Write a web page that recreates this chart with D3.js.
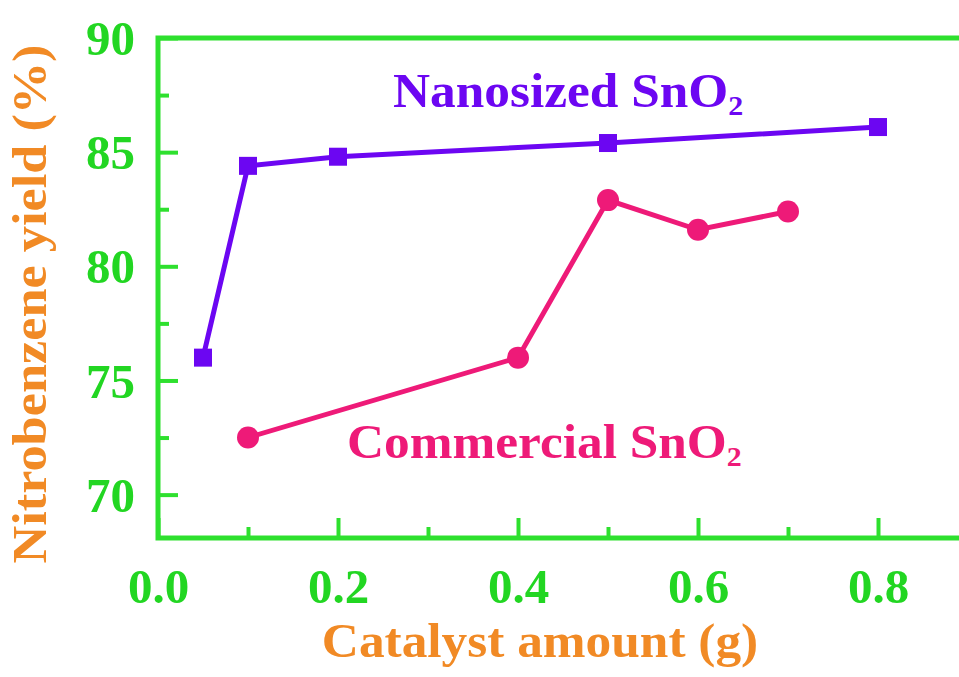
<!DOCTYPE html>
<meta charset="utf-8">
<style>
  body { margin: 0; background: #fff; }
  text { font-family: "Liberation Serif", "Times New Roman", serif; font-weight: bold; }
</style>
<body>
<script src="https://d3js.org/d3.v7.min.js"></script>
<script>

// data
var nanoX = [0.05, 0.1, 0.2, 0.5, 0.8];
var nanoY = [76.0, 84.4, 84.8, 85.4, 86.1];
var commX = [0.1, 0.4, 0.5, 0.6, 0.7];
var commY = [72.5, 76.0, 82.9, 81.6, 82.4];
var xTicks = [0.0, 0.2, 0.4, 0.6, 0.8];
var xMinor = [0.1, 0.3, 0.5, 0.7];
var yTicks = [70, 75, 80, 85, 90];
var yMinor = [72.5, 77.5, 82.5, 87.5];

var green = "#2ee02e", tickGreen = "#22d622", orange = "#f18a25", purple = "#6c06f2", pink = "#ee1a78";

var width = 959, height = 677;
var svg = d3.select("body").append("svg")
  .attr("width", width)
  .attr("height", height);

// scales (right edge of the frame runs past the picture)
var x = d3.scaleLinear().domain([0, 0.9]).range([158, 968]);
var y = d3.scaleLinear().domain([68.1, 90]).range([538, 38]);

// frame
svg.append("rect")
  .attr("x", x(0)).attr("y", y(90))
  .attr("width", x(0.9) - x(0)).attr("height", y(68.1) - y(90))
  .attr("fill", "none").attr("stroke", green).attr("stroke-width", 5);

// y axis, ticks pointing inward
var yAxis = svg.append("g")
  .attr("transform", "translate(" + x(0) + ",0)")
  .call(d3.axisLeft(y).tickValues(yTicks).tickSize(-20).tickPadding(23).tickFormat(d3.format("d")));
var yMin = svg.append("g")
  .attr("transform", "translate(" + x(0) + ",0)")
  .call(d3.axisLeft(y).tickValues(yMinor).tickSize(-11).tickFormat(""));

// x axis
var xAxis = svg.append("g")
  .attr("transform", "translate(0," + y(68.1) + ")")
  .call(d3.axisBottom(x).tickValues(xTicks).tickSize(-20).tickPadding(28).tickFormat(d3.format(".1f")));
var xMin = svg.append("g")
  .attr("transform", "translate(0," + y(68.1) + ")")
  .call(d3.axisBottom(x).tickValues(xMinor).tickSize(-11).tickFormat(""));

svg.selectAll(".domain").remove();
svg.selectAll(".tick line").attr("stroke", green).attr("stroke-width", 4);
svg.selectAll(".tick text")
  .attr("fill", tickGreen)
  .style("font-size", "49px")
  .style("font-family", "Liberation Serif")
  .style("font-weight", "bold");
yAxis.selectAll(".tick text").attr("dy", "0.34em");
xAxis.selectAll(".tick text").attr("dy", "0.75em");

// lines
var line = d3.line().x(function(d) { return x(d[0]); }).y(function(d) { return y(d[1]); });
var nano = nanoX.map(function(v, i) { return [v, nanoY[i]]; });
var comm = commX.map(function(v, i) { return [v, commY[i]]; });

svg.append("path").datum(nano)
  .attr("d", line).attr("fill", "none").attr("stroke", purple).attr("stroke-width", 5);
svg.selectAll(".sq").data(nano).enter().append("rect")
  .attr("x", function(d) { return x(d[0]) - 9; })
  .attr("y", function(d) { return y(d[1]) - 9; })
  .attr("width", 18).attr("height", 18)
  .attr("fill", purple);

svg.append("path").datum(comm)
  .attr("d", line).attr("fill", "none").attr("stroke", pink).attr("stroke-width", 5);
svg.selectAll(".dot").data(comm).enter().append("circle")
  .attr("cx", function(d) { return x(d[0]); })
  .attr("cy", function(d) { return y(d[1]); })
  .attr("r", 11)
  .attr("fill", pink);

// series labels, type is a little wider than Liberation Serif
function label(txt, px, py, col) {
  var t = svg.append("text")
    .attr("transform", "translate(" + px + "," + py + ") scale(1.07,1)")
    .attr("fill", col).style("font-size", "48px");
  t.append("tspan").text(txt);
  t.append("tspan").text("2").attr("dy", 8).style("font-size", "28px");
}
label("Nanosized SnO", 393, 107, purple);
label("Commercial SnO", 347, 458, pink);

// axis titles
svg.append("text")
  .attr("transform", "translate(540,657) scale(1.07,1)")
  .attr("text-anchor", "middle")
  .attr("fill", orange)
  .style("font-size", "48px")
  .text("Catalyst amount (g)");

svg.append("text")
  .attr("transform", "translate(46,304) rotate(-90) scale(1.09,1)")
  .attr("text-anchor", "middle")
  .attr("fill", orange)
  .style("font-size", "48px")
  .text("Nitrobenzene yield (%)");

</script>
</body>
